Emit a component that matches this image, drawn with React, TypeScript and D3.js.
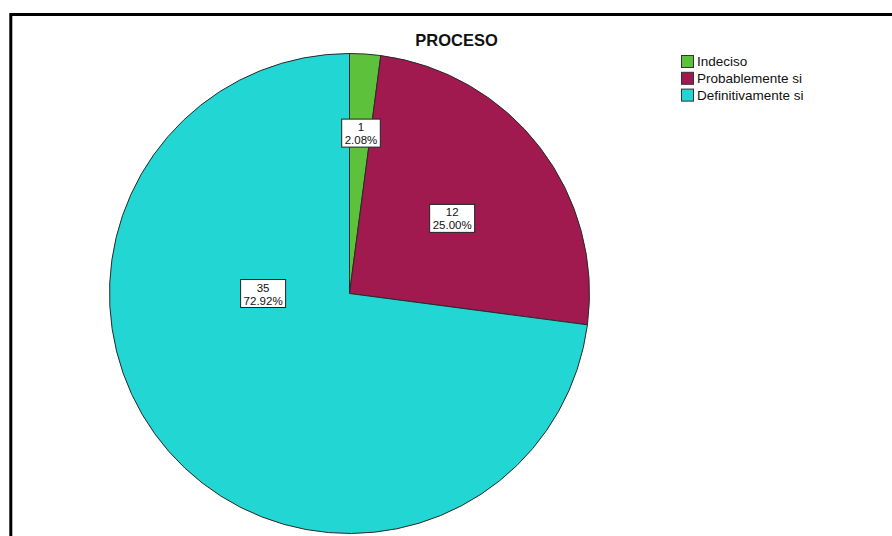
import React from "react";
import * as d3 from "d3";

const categories = ["Indeciso", "Probablemente si", "Definitivamente si"];
const counts = [1, 12, 35];
const percentLabels = ["2.08%", "25.00%", "72.92%"];
const colors = ["#5ec13b", "#a01a50", "#22d6d4"];
// label placement (angle in degrees clockwise from top, radius fraction)
const labelAngles = [4.1, 53.8, 270];
const labelRadii = [0.67, 0.53, 0.36];

const W = 892;
const H = 536;
const cx = 349.5;
const cy = 293.5;
const R = 240;
const FONT = "'Liberation Sans', Arial, sans-serif";

function measure(text: string, size: number, weight = "normal") {
  const c = document.createElement("canvas").getContext("2d");
  if (!c) return text.length * size * 0.55;
  c.font = `${weight} ${size}px 'Liberation Sans', Arial, sans-serif`;
  return c.measureText(text).width;
}

export default function App() {
  const pie = d3.pie<number>().sort(null).startAngle(0).endAngle(2 * Math.PI);
  const arcs = pie(counts);
  const arcGen = d3.arc<d3.PieArcDatum<number>>().innerRadius(0).outerRadius(R);

  return (
    <svg
      width={W}
      height={H}
      style={{ position: "absolute", left: 0, top: 0, background: "#fff" }}
      fontFamily={FONT}
    >
      <rect x={0} y={0} width={W} height={H} fill="#fff" />
      <rect x={10.8} y={14.5} width={W + 20} height={H + 20} fill="none" stroke="#000" strokeWidth={3} />
      <text x={456.5} y={45.5} textAnchor="middle" fontSize={16.5} fontWeight="bold" fill="#111">
        PROCESO
      </text>
      <g transform={`translate(${cx},${cy})`}>
        {arcs.map((a, i) => (
          <path key={i} d={arcGen(a) || ""} fill={colors[i]} stroke="#2a2a2a" strokeWidth={1} />
        ))}
        {arcs.map((a, i) => {
          const ang = (labelAngles[i] * Math.PI) / 180;
          const r = labelRadii[i] * R;
          const x = Math.sin(ang) * r;
          const y = -Math.cos(ang) * r;
          const l1 = String(counts[i]);
          const l2 = percentLabels[i];
          const w = Math.max(measure(l1, 11.5), measure(l2, 11.5)) + 6;
          const h = 28;
          return (
            <g key={"l" + i} transform={`translate(${x},${y})`}>
              <rect x={-w / 2} y={-h / 2} width={w} height={h} fill="#fff" stroke="#222" strokeWidth={1} />
              <text x={0} y={-2} textAnchor="middle" fontSize={11.5} fill="#111">
                {l1}
              </text>
              <text x={0} y={11} textAnchor="middle" fontSize={11.5} fill="#111">
                {l2}
              </text>
            </g>
          );
        })}
      </g>
      <g transform="translate(681,55)">
        {categories.map((c, i) => (
          <g key={c} transform={`translate(0,${i * 16.8})`}>
            <rect x={0.5} y={0.5} width={12} height={12} fill={colors[i]} stroke="#333" strokeWidth={1} />
            <text x={16} y={11} fontSize={13.5} fill="#111">
              {c}
            </text>
          </g>
        ))}
      </g>
    </svg>
  );
}
